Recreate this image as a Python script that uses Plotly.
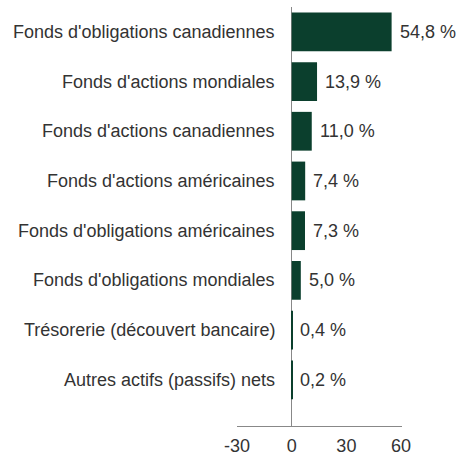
import plotly.graph_objects as go

categories = [
    "Fonds d'obligations canadiennes",
    "Fonds d'actions mondiales",
    "Fonds d'actions canadiennes",
    "Fonds d'actions américaines",
    "Fonds d'obligations américaines",
    "Fonds d'obligations mondiales",
    "Trésorerie (découvert bancaire)",
    "Autres actifs (passifs) nets",
]
values = [54.8, 13.9, 11.0, 7.4, 7.3, 5.0, 0.4, 0.2]
value_labels = ["54,8 %", "13,9 %", "11,0 %", "7,4 %", "7,3 %", "5,0 %", "0,4 %", "0,2 %"]
x_ticks = [-30, 0, 30, 60]

FONT = "Liberation Sans, Arial, sans-serif"
TXT = "#333333"
GREEN = "#0b3f2d"

fig = go.Figure(go.Bar(
    x=values, y=categories, orientation="h",
    marker=dict(color=GREEN, line=dict(width=0)),
    width=0.78,
))

for c in categories:
    fig.add_annotation(x=0, y=c, xref="x", yref="y", text=c, showarrow=False,
                       xanchor="right", xshift=-15,
                       font=dict(family=FONT, size=18, color=TXT))

for c, v, t in zip(categories, values, value_labels):
    fig.add_annotation(x=v, y=c, xref="x", yref="y", text=t, showarrow=False,
                       xanchor="left", xshift=6,
                       font=dict(family=FONT, size=18, color=TXT))

fig.update_layout(
    width=459, height=459,
    margin=dict(l=237, r=57, t=7, b=33, autoexpand=False),
    paper_bgcolor="white", plot_bgcolor="white",
    showlegend=False,
    font=dict(family=FONT, size=18, color=TXT),
    xaxis=dict(
        range=[-30, 60.5], tickvals=x_ticks, ticktext=[str(t) for t in x_ticks],
        showgrid=False, zeroline=True, zerolinecolor="#888888", zerolinewidth=1,
        showline=True, linecolor="#888888", linewidth=1, automargin=False,
        ticks="", ticklabelstandoff=3, tickfont=dict(family=FONT, size=18, color=TXT),
    ),
    yaxis=dict(
        categoryorder="array", categoryarray=categories,
        range=[7.93, -0.5], showticklabels=False, automargin=False,
        showgrid=False, zeroline=False, showline=False,
    ),
)

fig.write_html("out.html", config={"displayModeBar": False},
               post_script="document.body.style.margin='0px';")
